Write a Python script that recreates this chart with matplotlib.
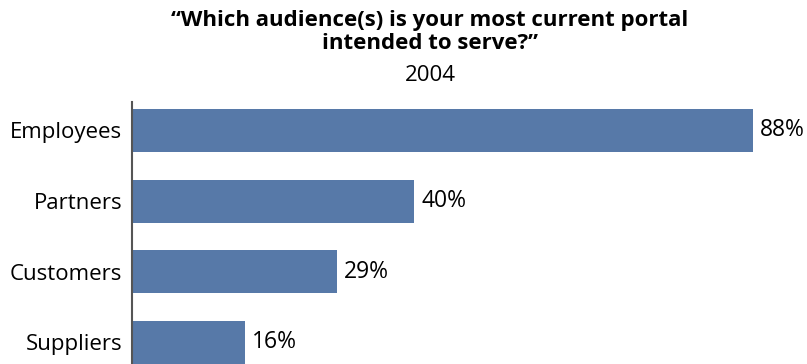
import matplotlib.pyplot as plt

categories = ["Employees", "Partners", "Customers", "Suppliers"]
values = [88, 40, 29, 16]
title = "\u201cWhich audience(s) is your most current portal\nintended to serve?\u201d"
subtitle = "2004"

plt.rcParams['font.family'] = ['Open Sans', 'DejaVu Sans']

fig = plt.figure(figsize=(8.07, 3.64), dpi=100)
ax = fig.add_axes([132 / 807, 0, (753 - 132) / 807, 1 - 102 / 364])

pos = list(range(len(categories)))
ax.barh(pos, values, height=0.61, color="#5779a8")
for p, v in zip(pos, values):
    ax.text(v + 1, p, f"{v}%", va="center", ha="left", fontsize=16.5)

ax.set_xlim(0, 88)
ax.set_ylim(3.31, -0.404)
ax.set_yticks(pos)
ax.set_yticklabels(categories, fontsize=16)
ax.tick_params(axis="y", length=0, pad=7)
ax.set_xticks([])
for s in ["top", "right", "bottom"]:
    ax.spines[s].set_visible(False)
ax.spines["left"].set_color("#555555")
ax.spines["left"].set_linewidth(1.5)

fig.text(430 / 807, 1 - 10 / 364, title, ha="center", va="top",
         fontsize=16, fontweight="bold", linespacing=1.15)
fig.text(430 / 807, 1 - 65 / 364, subtitle, ha="center", va="top", fontsize=16)

fig.savefig("out.png", dpi=100)
